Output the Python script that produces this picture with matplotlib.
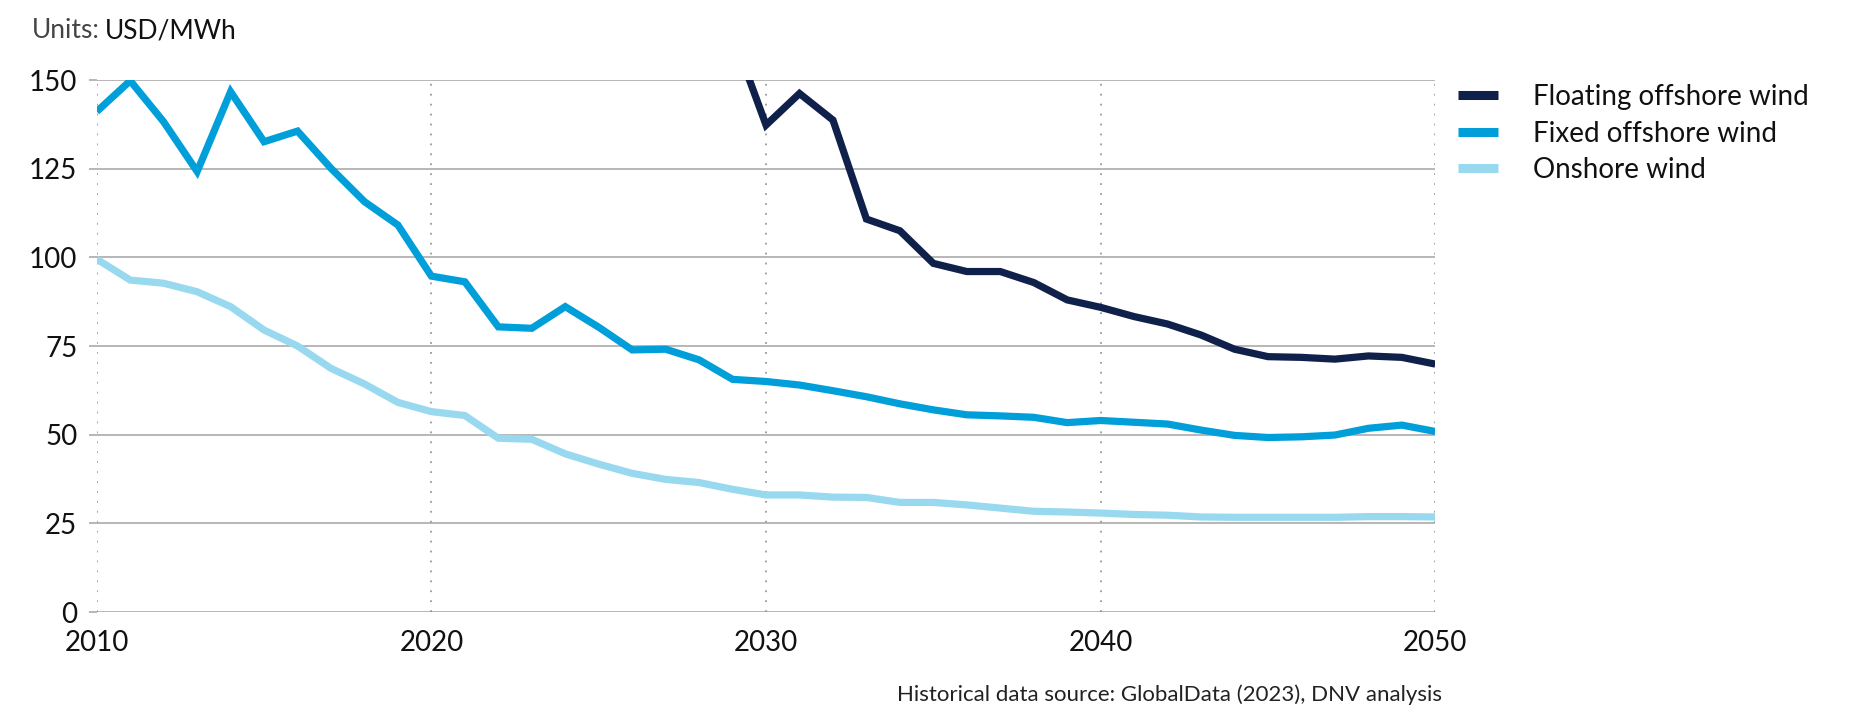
import matplotlib
matplotlib.use("Agg")
import matplotlib.pyplot as plt
import numpy as np

plt.rcParams['font.family'] = ['Lato', 'DejaVu Sans']

# data (USD/MWh)
years = list(range(2010, 2051))
floating_years = list(range(2029, 2051))
floating = [163, 137.3, 146.2, 138.7, 110.8, 107.5, 98.3, 96.0, 96.0, 92.9, 88.0,
            85.9, 83.3, 81.2, 78.1, 74.1, 72.0, 71.8, 71.3, 72.2, 71.8, 69.9]
fixed = [141.1, 149.8, 138.2, 124.2, 146.7, 132.6, 135.6, 125.1, 115.7, 109.1,
         94.7, 93.1, 80.4, 80.0, 86.1, 80.3, 73.9, 74.1, 71.1, 65.6,
         65.0, 64.0, 62.4, 60.7, 58.7, 57.0, 55.6, 55.3, 54.9, 53.4,
         54.0, 53.5, 53.0, 51.3, 49.8, 49.2, 49.4, 49.9, 51.8, 52.7, 50.9]
onshore = [99.5, 93.6, 92.7, 90.3, 86.1, 79.5, 75.0, 68.7, 64.3, 59.1,
           56.5, 55.4, 49.0, 48.7, 44.6, 41.7, 39.1, 37.4, 36.5, 34.6,
           33.0, 33.0, 32.4, 32.3, 30.9, 30.9, 30.2, 29.3, 28.4, 28.2,
           27.9, 27.5, 27.3, 26.8, 26.7, 26.7, 26.7, 26.7, 26.9, 26.9, 26.8]
labels = ["Floating offshore wind", "Fixed offshore wind", "Onshore wind"]
colors = ["#0f204b", "#009fda", "#99d9f0"]
yticks = [0, 25, 50, 75, 100, 125, 150]
xticks = [2010, 2020, 2030, 2040, 2050]

fig = plt.figure(figsize=(18.75, 7.05), dpi=100)
ax = fig.add_axes([0.0516, 0.1319, 0.7139, 0.7546])

lw = 5.2
ax.plot(floating_years, floating, color=colors[0], lw=lw, label=labels[0],
        solid_joinstyle='miter', solid_capstyle='butt', zorder=5)
ax.plot(years, fixed, color=colors[1], lw=lw, label=labels[1],
        solid_joinstyle='miter', solid_capstyle='butt', zorder=4)
ax.plot(years, onshore, color=colors[2], lw=lw, label=labels[2],
        solid_joinstyle='miter', solid_capstyle='butt', zorder=3)

ax.set_xlim(2010, 2050)
ax.set_ylim(0, 150)
ax.set_xticks(xticks)
ax.set_yticks(yticks)

# grid
for y in yticks:
    ax.axhline(y, color="#aaaaaa", lw=1.2, zorder=1)
for x in xticks:
    ax.axvline(x, color="#9a9a9a", lw=1.3, ls=(0, (1, 4.5)), zorder=1)

for s in ax.spines.values():
    s.set_visible(False)

ax.tick_params(axis='y', length=6, width=1.2, color="#aaaaaa", pad=8,
               labelsize=20, labelcolor="#111111")
ax.tick_params(axis='x', length=0, pad=13, labelsize=20, labelcolor="#111111")

# units label
fig.text(32 / 1875, 1 - 38 / 705, "Units:", fontsize=19, color="#444444",
         va='baseline', ha='left')
fig.text(105 / 1875, 1 - 38 / 705, "USD/MWh", fontsize=19, color="#111111",
         va='baseline', ha='left')

leg = ax.legend(loc='upper left', bbox_to_anchor=(1458 / 1875, 1 - 84 / 705),
                bbox_transform=fig.transFigure, frameon=False, fontsize=20,
                handlelength=1.45, handletextpad=1.25, labelspacing=0.38,
                borderpad=0, borderaxespad=0)
for h in leg.get_lines():
    h.set_linewidth(6.5)
for t in leg.get_texts():
    t.set_color("#111111")

fig.text(1442 / 1875, 1 - 701 / 705,
         "Historical data source: GlobalData (2023), DNV analysis",
         fontsize=16, color="#222222", ha='right', va='baseline')

fig.savefig("out.png", dpi=100)
